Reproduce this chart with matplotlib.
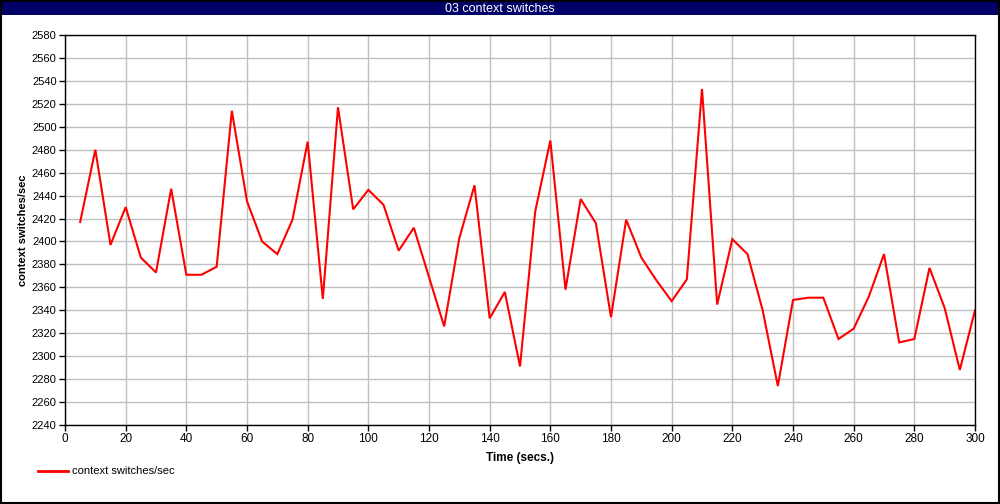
import matplotlib; matplotlib.use("Agg")
import matplotlib.pyplot as plt
from matplotlib.patches import Rectangle
from matplotlib.lines import Line2D

NAVY = "#000066"
# seconds, context switches/sec
times = list(range(5, 301, 5))
cswitch = [2417, 2480, 2397, 2430, 2386, 2373, 2446, 2371, 2371, 2378,
           2514, 2435, 2400, 2389, 2419, 2487, 2350, 2517, 2428, 2445,
           2432, 2392, 2412, 2369, 2326, 2403, 2449, 2333, 2356, 2291,
           2426, 2488, 2358, 2437, 2416, 2334, 2419, 2386, 2366, 2348,
           2367, 2533, 2345, 2402, 2389, 2340, 2274, 2349, 2351, 2351,
           2315, 2324, 2352, 2389, 2312, 2315, 2377, 2342, 2288, 2340]
xticks = list(range(0, 301, 20))
yticks = list(range(2240, 2581, 20))

narrow = ["Liberation Sans Narrow", "Liberation Sans", "DejaVu Sans"]
fig = plt.figure(figsize=(10, 5.04), dpi=100)
ax = fig.add_axes([0.065, 0.1567, 0.91, 0.7738])

ax.plot(times, cswitch, color="#ff0000", lw=1.5, solid_joinstyle="miter")
ax.set_xlim(0, 300); ax.set_ylim(2240, 2580)
ax.set_xticks(xticks); ax.set_yticks(yticks)
ax.set_xticklabels([str(v) for v in xticks], family=narrow, fontsize=8.5)
ax.set_yticklabels([str(v) for v in yticks], family=["Liberation Sans", "DejaVu Sans"], fontsize=8)
ax.grid(True, color="#c0c0c0", lw=1)
ax.set_axisbelow(True)
ax.tick_params(direction="out", length=4, width=1, color="black", pad=2)
for s in ax.spines.values():
    s.set_color("black"); s.set_linewidth(1)
ax.set_xlabel("Time (secs.)", family=narrow, fontsize=8.5, fontweight="bold", labelpad=5)
ax.set_ylabel("context switches/sec", family=["Liberation Sans", "DejaVu Sans"], fontsize=8,
              fontweight="bold", labelpad=3)

# title bar and frame
fig.patches.append(Rectangle((0, 1 - 15/504), 1, 15/504, transform=fig.transFigure,
                             facecolor=NAVY, edgecolor="none", zorder=0))
fig.text(0.5, 1 - 11.5/504, "03 context switches", color="white", ha="center", va="baseline",
         family=narrow, fontsize=9)
fig.patches.append(Rectangle((0.001, 0.002), 0.998, 0.996, transform=fig.transFigure,
                             facecolor="none", edgecolor="black", lw=1.5, zorder=5))

# legend
fig.lines.append(Line2D([38/1000, 68/1000], [1 - 471/504] * 2, transform=fig.transFigure,
                        color="#ff0000", lw=2))
fig.text(72/1000, 1 - 471/504, "context switches/sec", family=narrow, fontsize=8, va="center")

fig.savefig("out.png", dpi=100)
